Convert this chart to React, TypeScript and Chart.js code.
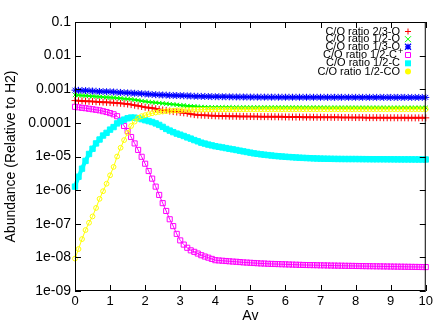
import React, { useEffect, useRef } from "react";
import { Chart, registerables } from "chart.js";
Chart.register(...registerables);

// Av values (x), step 0.1
const avs = [
  0, 0.1, 0.2, 0.3, 0.4, 0.5, 0.6, 0.7, 0.8, 0.9,
  1.0, 1.1, 1.2, 1.3, 1.4, 1.5, 1.6, 1.7, 1.8, 1.9,
  2.0, 2.1, 2.2, 2.3, 2.4, 2.5, 2.6, 2.7, 2.8, 2.9,
  3.0, 3.1, 3.2, 3.3, 3.4, 3.5, 3.6, 3.7, 3.8, 3.9,
  4.0, 4.1, 4.2, 4.3, 4.4, 4.5, 4.6, 4.7, 4.8, 4.9,
  5.0, 5.1, 5.2, 5.3, 5.4, 5.5, 5.6, 5.7, 5.8, 5.9,
  6.0, 6.1, 6.2, 6.3, 6.4, 6.5, 6.6, 6.7, 6.8, 6.9,
  7.0, 7.1, 7.2, 7.3, 7.4, 7.5, 7.6, 7.7, 7.8, 7.9,
  8.0, 8.1, 8.2, 8.3, 8.4, 8.5, 8.6, 8.7, 8.8, 8.9,
  9.0, 9.1, 9.2, 9.3, 9.4, 9.5, 9.6, 9.7, 9.8, 9.9,
  10.0,
];

// C/O ratio 2/3-O
const ratio23O = [
  4.6e-4, 4.55e-4, 4.5e-4, 4.43e-4, 4.37e-4, 4.31e-4, 4.25e-4, 4.2e-4, 4.14e-4, 4.08e-4,
  4.02e-4, 3.96e-4, 3.9e-4, 3.81e-4, 3.73e-4, 3.62e-4, 3.5e-4, 3.35e-4, 3.21e-4, 3.07e-4,
  2.92e-4, 2.83e-4, 2.75e-4, 2.63e-4, 2.52e-4, 2.42e-4, 2.34e-4, 2.25e-4, 2.17e-4, 2.11e-4,
  2.05e-4, 1.99e-4, 1.93e-4, 1.84e-4, 1.76e-4, 1.72e-4, 1.7e-4, 1.68e-4, 1.66e-4, 1.64e-4,
  1.62e-4, 1.61e-4, 1.6e-4, 1.59e-4, 1.58e-4, 1.57e-4, 1.57e-4, 1.56e-4, 1.56e-4, 1.55e-4,
  1.55e-4, 1.54e-4, 1.54e-4, 1.53e-4, 1.53e-4, 1.53e-4, 1.52e-4, 1.52e-4, 1.51e-4, 1.51e-4,
  1.5e-4, 1.5e-4, 1.49e-4, 1.49e-4, 1.49e-4, 1.48e-4, 1.48e-4, 1.48e-4, 1.47e-4, 1.47e-4,
  1.47e-4, 1.47e-4, 1.46e-4, 1.46e-4, 1.46e-4, 1.46e-4, 1.45e-4, 1.45e-4, 1.45e-4, 1.44e-4,
  1.44e-4, 1.44e-4, 1.44e-4, 1.43e-4, 1.43e-4, 1.43e-4, 1.43e-4, 1.43e-4, 1.42e-4, 1.42e-4,
  1.42e-4, 1.42e-4, 1.42e-4, 1.42e-4, 1.42e-4, 1.41e-4, 1.41e-4, 1.41e-4, 1.41e-4, 1.41e-4,
  1.41e-4,
];

// C/O ratio 1/2-O
const ratio12O = [
  6.75e-4, 6.65e-4, 6.5e-4, 6.4e-4, 6.3e-4, 6.2e-4, 6.05e-4, 5.95e-4, 5.85e-4, 5.8e-4,
  5.7e-4, 5.6e-4, 5.5e-4, 5.4e-4, 5.25e-4, 5.15e-4, 5.05e-4, 4.85e-4, 4.7e-4, 4.5e-4,
  4.35e-4, 4.2e-4, 4.1e-4, 4.0e-4, 3.9e-4, 3.8e-4, 3.7e-4, 3.62e-4, 3.55e-4, 3.45e-4,
  3.37e-4, 3.3e-4, 3.2e-4, 3.15e-4, 3.1e-4, 3.03e-4, 2.98e-4, 2.95e-4, 2.93e-4, 2.92e-4,
  2.91e-4, 2.91e-4, 2.9e-4, 2.9e-4, 2.9e-4, 2.89e-4, 2.89e-4, 2.89e-4, 2.88e-4, 2.88e-4,
  2.88e-4, 2.88e-4, 2.88e-4, 2.87e-4, 2.87e-4, 2.87e-4, 2.87e-4, 2.87e-4, 2.87e-4, 2.86e-4,
  2.86e-4, 2.86e-4, 2.86e-4, 2.86e-4, 2.86e-4, 2.85e-4, 2.85e-4, 2.85e-4, 2.85e-4, 2.85e-4,
  2.85e-4, 2.85e-4, 2.84e-4, 2.84e-4, 2.84e-4, 2.84e-4, 2.84e-4, 2.84e-4, 2.84e-4, 2.84e-4,
  2.83e-4, 2.83e-4, 2.83e-4, 2.83e-4, 2.83e-4, 2.83e-4, 2.83e-4, 2.83e-4, 2.82e-4, 2.82e-4,
  2.82e-4, 2.82e-4, 2.82e-4, 2.82e-4, 2.82e-4, 2.82e-4, 2.82e-4, 2.82e-4, 2.82e-4, 2.82e-4,
  2.82e-4,
];

// C/O ratio 1/3-O
const ratio13O = [
  9.4e-4, 9.3e-4, 9.2e-4, 9.1e-4, 9.0e-4, 8.85e-4, 8.75e-4, 8.6e-4, 8.5e-4, 8.45e-4,
  8.4e-4, 8.3e-4, 8.15e-4, 8.05e-4, 7.9e-4, 7.8e-4, 7.7e-4, 7.6e-4, 7.5e-4, 7.35e-4,
  7.25e-4, 7.15e-4, 7.0e-4, 6.9e-4, 6.8e-4, 6.75e-4, 6.7e-4, 6.6e-4, 6.55e-4, 6.5e-4,
  6.45e-4, 6.4e-4, 6.35e-4, 6.3e-4, 6.2e-4, 6.18e-4, 6.14e-4, 6.1e-4, 6.07e-4, 6.03e-4,
  6.0e-4, 5.99e-4, 5.98e-4, 5.96e-4, 5.94e-4, 5.92e-4, 5.9e-4, 5.89e-4, 5.88e-4, 5.86e-4,
  5.85e-4, 5.84e-4, 5.84e-4, 5.83e-4, 5.83e-4, 5.82e-4, 5.82e-4, 5.81e-4, 5.81e-4, 5.8e-4,
  5.8e-4, 5.8e-4, 5.79e-4, 5.79e-4, 5.79e-4, 5.78e-4, 5.78e-4, 5.78e-4, 5.77e-4, 5.77e-4,
  5.77e-4, 5.77e-4, 5.76e-4, 5.76e-4, 5.76e-4, 5.76e-4, 5.76e-4, 5.75e-4, 5.75e-4, 5.75e-4,
  5.75e-4, 5.75e-4, 5.74e-4, 5.74e-4, 5.74e-4, 5.74e-4, 5.74e-4, 5.74e-4, 5.73e-4, 5.73e-4,
  5.73e-4, 5.73e-4, 5.73e-4, 5.73e-4, 5.73e-4, 5.72e-4, 5.72e-4, 5.72e-4, 5.72e-4, 5.72e-4,
  5.72e-4,
];

// C/O ratio 1/2-C+
const ratio12Cplus = [
  3.0e-4, 2.9e-4, 2.8e-4, 2.73e-4, 2.63e-4, 2.54e-4, 2.45e-4, 2.36e-4, 2.22e-4, 2.1e-4,
  1.95e-4, 1.8e-4, 1.58e-4, 1.17e-4, 8.1e-5, 5.7e-5, 3.8e-5, 2.45e-5, 1.57e-5, 9.8e-6,
  6.1e-6, 3.7e-6, 2.2e-6, 1.27e-6, 7.2e-7, 4.1e-7, 2.4e-7, 1.36e-7, 8.5e-8, 5.0e-8,
  3.2e-8, 2.4e-8, 1.93e-8, 1.62e-8, 1.46e-8, 1.3e-8, 1.16e-8, 1.06e-8, 9.8e-9, 9.0e-9,
  8.25e-9, 8.1e-9, 7.95e-9, 7.8e-9, 7.65e-9, 7.5e-9, 7.4e-9, 7.25e-9, 7.1e-9, 7.0e-9,
  6.9e-9, 6.8e-9, 6.7e-9, 6.6e-9, 6.55e-9, 6.45e-9, 6.4e-9, 6.35e-9, 6.3e-9, 6.25e-9,
  6.2e-9, 6.15e-9, 6.1e-9, 6.05e-9, 6.0e-9, 5.95e-9, 5.92e-9, 5.9e-9, 5.87e-9, 5.84e-9,
  5.8e-9, 5.78e-9, 5.75e-9, 5.72e-9, 5.7e-9, 5.67e-9, 5.65e-9, 5.62e-9, 5.6e-9, 5.58e-9,
  5.55e-9, 5.53e-9, 5.5e-9, 5.48e-9, 5.46e-9, 5.44e-9, 5.42e-9, 5.4e-9, 5.38e-9, 5.36e-9,
  5.34e-9, 5.32e-9, 5.3e-9, 5.28e-9, 5.26e-9, 5.24e-9, 5.22e-9, 5.2e-9, 5.18e-9, 5.16e-9,
  5.15e-9,
];

// C/O ratio 1/2-C
const ratio12C = [
  1.27e-6, 2.5e-6, 4.35e-6, 7.4e-6, 1.19e-5, 1.7e-5, 2.45e-5, 3.2e-5, 4.2e-5, 5.05e-5,
  6.3e-5, 7.5e-5, 9.65e-5, 1.11e-4, 1.25e-4, 1.37e-4, 1.44e-4, 1.43e-4, 1.37e-4, 1.29e-4,
  1.2e-4, 1.13e-4, 1.06e-4, 9.65e-5, 8.7e-5, 7.6e-5, 6.6e-5, 5.9e-5, 5.3e-5, 4.8e-5,
  4.45e-5, 4.07e-5, 3.7e-5, 3.4e-5, 3.08e-5, 2.83e-5, 2.58e-5, 2.42e-5, 2.26e-5, 2.14e-5,
  2.02e-5, 1.94e-5, 1.86e-5, 1.78e-5, 1.7e-5, 1.63e-5, 1.56e-5, 1.49e-5, 1.42e-5, 1.36e-5,
  1.3e-5, 1.24e-5, 1.2e-5, 1.16e-5, 1.13e-5, 1.1e-5, 1.07e-5, 1.04e-5, 1.02e-5, 1.0e-5,
  9.8e-6, 9.65e-6, 9.5e-6, 9.35e-6, 9.2e-6, 9.1e-6, 9.0e-6, 8.9e-6, 8.8e-6, 8.72e-6,
  8.65e-6, 8.6e-6, 8.56e-6, 8.52e-6, 8.48e-6, 8.45e-6, 8.43e-6, 8.41e-6, 8.4e-6, 8.4e-6,
  8.4e-6, 8.38e-6, 8.36e-6, 8.34e-6, 8.32e-6, 8.3e-6, 8.3e-6, 8.3e-6, 8.28e-6, 8.26e-6,
  8.25e-6, 8.23e-6, 8.22e-6, 8.2e-6, 8.2e-6, 8.2e-6, 8.18e-6, 8.17e-6, 8.16e-6, 8.15e-6,
  8.15e-6,
];

// C/O ratio 1/2-CO
const ratio12CO = [
  9.2e-9, 1.77e-8, 3.5e-8, 6.5e-8, 1.07e-7, 1.65e-7, 2.95e-7, 5.5e-7, 9.3e-7, 1.55e-6,
  2.76e-6, 4.9e-6, 1.0e-5, 1.82e-5, 3.08e-5, 5.05e-5, 8.1e-5, 1.09e-4, 1.41e-4, 1.58e-4,
  1.7e-4, 1.82e-4, 1.94e-4, 2.03e-4, 2.12e-4, 2.17e-4, 2.23e-4, 2.28e-4, 2.31e-4, 2.35e-4,
  2.37e-4, 2.4e-4, 2.41e-4, 2.43e-4, 2.44e-4, 2.45e-4, 2.47e-4, 2.48e-4, 2.49e-4, 2.5e-4,
  2.5e-4, 2.5e-4, 2.51e-4, 2.51e-4, 2.51e-4, 2.51e-4, 2.52e-4, 2.52e-4, 2.52e-4, 2.52e-4,
  2.52e-4, 2.52e-4, 2.53e-4, 2.53e-4, 2.53e-4, 2.53e-4, 2.53e-4, 2.53e-4, 2.53e-4, 2.53e-4,
  2.53e-4, 2.53e-4, 2.53e-4, 2.54e-4, 2.54e-4, 2.54e-4, 2.54e-4, 2.54e-4, 2.54e-4, 2.54e-4,
  2.54e-4, 2.54e-4, 2.54e-4, 2.54e-4, 2.54e-4, 2.54e-4, 2.54e-4, 2.54e-4, 2.54e-4, 2.54e-4,
  2.54e-4, 2.54e-4, 2.54e-4, 2.55e-4, 2.55e-4, 2.55e-4, 2.55e-4, 2.55e-4, 2.55e-4, 2.55e-4,
  2.55e-4, 2.55e-4, 2.55e-4, 2.55e-4, 2.55e-4, 2.55e-4, 2.55e-4, 2.55e-4, 2.55e-4, 2.55e-4,
  2.55e-4,
];

const seriesLabels = [
  "C/O ratio 2/3-O",
  "C/O ratio 1/2-O",
  "C/O ratio 1/3-O",
  "C/O ratio 1/2-C+",
  "C/O ratio 1/2-C",
  "C/O ratio 1/2-CO",
];
const seriesData = [ratio23O, ratio12O, ratio13O, ratio12Cplus, ratio12C, ratio12CO];
const seriesColors = ["#ff0000", "#00ff00", "#0000ff", "#ff00ff", "#00ffff", "#ffff00"];

const xTickValues = [0, 1, 2, 3, 4, 5, 6, 7, 8, 9, 10];
const yTickValues = [1e-9, 1e-8, 1e-7, 1e-6, 1e-5, 1e-4, 1e-3, 1e-2, 1e-1];
const yTickLabels = ["1e-09", "1e-08", "1e-07", "1e-06", "1e-05", "0.0001", "0.001", "0.01", "0.1"];

const FONT = "'Liberation Sans', Arial, Helvetica, sans-serif";

type Style = {
  pointStyle: any;
  radius: number;
  lineWidth: number;
  fill: boolean;
  pointBorder: number;
};
const styles: Style[] = [
  { pointStyle: "cross", radius: 3.5, lineWidth: 2, fill: false, pointBorder: 1 },
  { pointStyle: "crossRot", radius: 3, lineWidth: 2, fill: false, pointBorder: 1 },
  { pointStyle: "star", radius: 3.5, lineWidth: 2.5, fill: false, pointBorder: 1 },
  { pointStyle: "rect", radius: 3.6, lineWidth: 1, fill: false, pointBorder: 1 },
  { pointStyle: "rect", radius: 3.8, lineWidth: 4, fill: true, pointBorder: 1 },
  { pointStyle: "circle", radius: 2.4, lineWidth: 1, fill: false, pointBorder: 1 },
];

const legendYs = [31.5, 39.2, 46.8, 55, 63.3, 71.6];

function drawLegendMarker(ctx: CanvasRenderingContext2D, i: number, x: number, y: number) {
  const c = seriesColors[i];
  ctx.save();
  ctx.strokeStyle = c;
  ctx.fillStyle = c;
  ctx.lineWidth = 1;
  const r = 3;
  ctx.beginPath();
  if (i === 0) {
    ctx.moveTo(x - r, y); ctx.lineTo(x + r, y);
    ctx.moveTo(x, y - r); ctx.lineTo(x, y + r);
    ctx.stroke();
  } else if (i === 1) {
    ctx.moveTo(x - r, y - r); ctx.lineTo(x + r, y + r);
    ctx.moveTo(x - r, y + r); ctx.lineTo(x + r, y - r);
    ctx.stroke();
  } else if (i === 2) {
    ctx.moveTo(x - r, y); ctx.lineTo(x + r, y);
    ctx.moveTo(x, y - r); ctx.lineTo(x, y + r);
    ctx.moveTo(x - r, y - r); ctx.lineTo(x + r, y + r);
    ctx.moveTo(x - r, y + r); ctx.lineTo(x + r, y - r);
    ctx.lineWidth = 1.3;
    ctx.stroke();
  } else if (i === 3) {
    ctx.rect(x - 2.5, y - 2.5, 5, 5);
    ctx.stroke();
  } else if (i === 4) {
    ctx.rect(x - 3, y - 3, 6, 6);
    ctx.fill();
  } else {
    ctx.arc(x, y, 3, 0, Math.PI * 2);
    ctx.fill();
  }
  ctx.restore();
}

const framePlugin = {
  id: "gnuFrame",
  afterDatasetsDraw(chart: any) {
    const { ctx, chartArea: a, scales } = chart;
    ctx.save();
    ctx.strokeStyle = "#000";
    ctx.lineWidth = 1;
    ctx.strokeRect(a.left + 0.5, a.top + 0.5, a.right - a.left - 1, a.bottom - a.top - 1);
    ctx.beginPath();
    const tl = 6;
    xTickValues.forEach((v) => {
      const px = Math.round(scales.x.getPixelForValue(v)) + 0.5;
      ctx.moveTo(px, a.bottom);
      ctx.lineTo(px, a.bottom - tl);
      ctx.moveTo(px, a.top);
      ctx.lineTo(px, a.top + tl);
    });
    yTickValues.forEach((v) => {
      const py = Math.round(scales.y.getPixelForValue(v)) + 0.5;
      ctx.moveTo(a.left, py);
      ctx.lineTo(a.left + tl, py);
      ctx.moveTo(a.right, py);
      ctx.lineTo(a.right - tl, py);
    });
    ctx.stroke();

    // legend (inside, top right, gnuplot style)
    ctx.fillStyle = "#000";
    ctx.textBaseline = "middle";
    const textRight = 400;
    const markerX = 408;
    seriesLabels.forEach((label, i) => {
      const y = legendYs[i];
      if (label.endsWith("+")) {
        const main = label.slice(0, -1);
        ctx.font = `11px ${FONT}`;
        ctx.textAlign = "right";
        ctx.fillText(main, textRight - 3, y);
        ctx.font = `9px ${FONT}`;
        ctx.textAlign = "left";
        ctx.fillText("+", textRight - 2, y - 3);
      } else {
        ctx.font = `11px ${FONT}`;
        ctx.textAlign = "right";
        ctx.fillText(label, textRight, y);
      }
      drawLegendMarker(ctx, i, markerX, y);
    });
    ctx.restore();
  },
};

export default function App() {
  const canvasRef = useRef<HTMLCanvasElement | null>(null);

  useEffect(() => {
    if (!canvasRef.current) return;
    Chart.defaults.font.family = FONT;
    Chart.defaults.color = "#000";

    const datasets = seriesData.map((vals, i) => {
      const s = styles[i];
      const c = seriesColors[i];
      return {
        label: seriesLabels[i],
        data: avs.map((x, k) => ({ x, y: vals[k] })),
        borderColor: c,
        backgroundColor: c,
        borderWidth: s.lineWidth,
        pointStyle: s.pointStyle,
        pointRadius: s.radius,
        pointBorderWidth: s.pointBorder,
        pointBorderColor: c,
        pointBackgroundColor: s.fill ? c : "rgba(0,0,0,0)",
        showLine: true,
        tension: 0,
        clip: false as any,
        order: seriesData.length - i,
      };
    });

    const chart = new Chart(canvasRef.current, {
      type: "scatter",
      data: { datasets } as any,
      options: {
        responsive: false,
        animation: false,
        events: [],
        layout: { padding: { top: 22, right: 9, left: 0, bottom: 0 } },
        plugins: {
          legend: { display: false },
          tooltip: { enabled: false },
        },
        scales: {
          x: {
            type: "linear",
            min: 0,
            max: 10,
            grid: { display: false, drawTicks: false },
            border: { display: false },
            ticks: {
              stepSize: 1,
              autoSkip: false,
              maxRotation: 0,
              padding: 3,
              font: { size: 13, family: FONT },
              color: "#000",
              callback: (v: any) => String(v),
            },
            title: {
              display: true,
              text: "Av",
              font: { size: 14, family: FONT },
              color: "#000",
              padding: { top: 0, bottom: 0 },
            },
            afterFit: (s: any) => {
              s.height = 34;
            },
          },
          y: {
            type: "logarithmic",
            min: 1e-9,
            max: 0.1,
            grid: { display: false, drawTicks: false },
            border: { display: false },
            afterBuildTicks: (s: any) => {
              s.ticks = yTickValues.map((v) => ({ value: v }));
            },
            ticks: {
              autoSkip: false,
              padding: 4,
              font: { size: 14, family: FONT },
              color: "#000",
              callback: (v: any) => {
                const idx = yTickValues.indexOf(v);
                return idx >= 0 ? yTickLabels[idx] : "";
              },
            },
            title: {
              display: true,
              text: "Abundance (Relative to H2)",
              font: { size: 14, family: FONT },
              color: "#000",
              padding: { top: 3, bottom: 0 },
            },
            afterFit: (s: any) => {
              s.width = 75;
            },
          },
        },
      } as any,
      plugins: [framePlugin],
    });
    return () => chart.destroy();
  }, []);

  return (
    <div style={{ position: "absolute", left: 0, top: 0, width: 436, height: 325, background: "#fff" }}>
      <canvas ref={canvasRef} width={436} height={325} style={{ width: 436, height: 325 }} />
    </div>
  );
}
